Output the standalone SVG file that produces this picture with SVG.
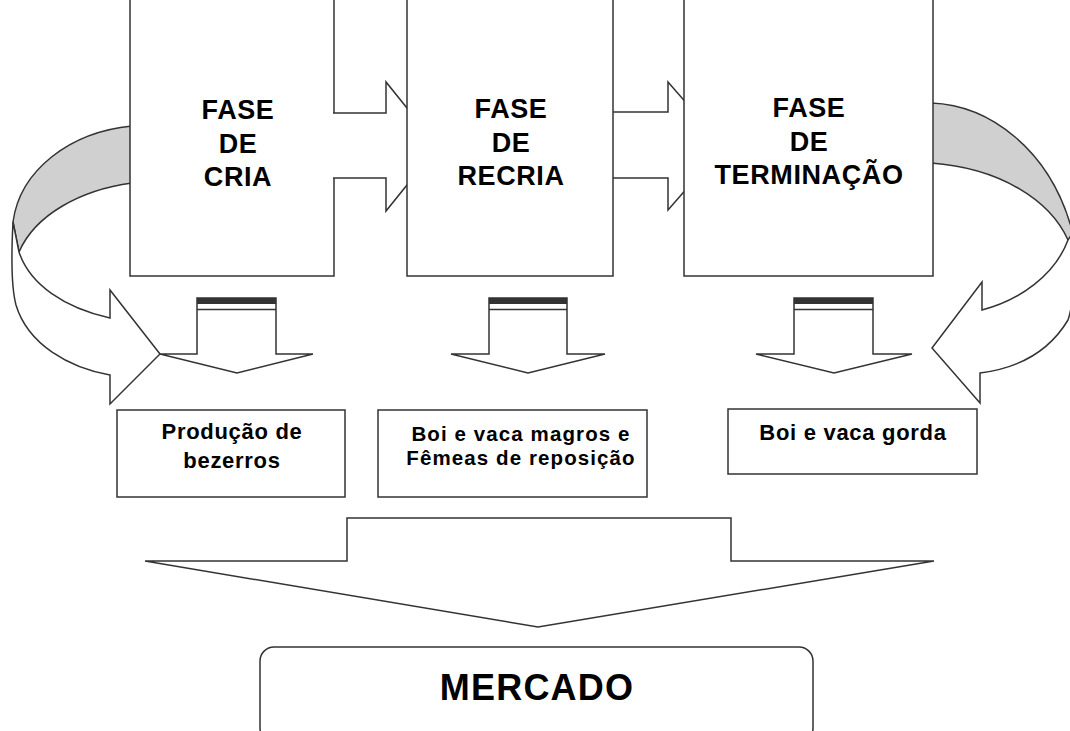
<svg xmlns="http://www.w3.org/2000/svg" width="1070" height="731" viewBox="0 0 1070 731">
<style>
.ln{stroke:#333;stroke-width:1.5;fill:#fff;stroke-linejoin:miter}
.gr{stroke:#333;stroke-width:1.5;fill:#d0d0d0}
.t1{font-family:"Liberation Sans",Arial,sans-serif;font-weight:bold;font-size:27px;letter-spacing:0.6px;text-anchor:middle;fill:#000}
.t2{font-family:"Liberation Sans",Arial,sans-serif;font-weight:bold;font-size:22px;letter-spacing:0.7px;text-anchor:middle;fill:#000}
.t2s{font-family:"Liberation Sans",Arial,sans-serif;font-weight:bold;font-size:20.5px;letter-spacing:1.1px;text-anchor:middle;fill:#000}
.t3{font-family:"Liberation Sans",Arial,sans-serif;font-weight:bold;font-size:36px;letter-spacing:1.2px;text-anchor:middle;fill:#000}
</style>
<rect width="1070" height="731" fill="#fff"/>
<g id="connectors">
  <path class="gr" d="M132,126 C70,132 20,170 13,222 L19,252 C35,215 80,190 132,183 Z"/>
  <path class="ln" d="M13,222 C11,260 12,290 16,305 C28,345 70,368 110,375 L110,404 L160,354 L110,290 L110,318 C65,308 30,285 19,252 Z"/>
  <path class="gr" d="M931,103 C990,105 1050,150 1072,230 L1072,242 L1068,240 C1050,200 1000,168 931,163 Z"/>
  <path class="ln" d="M1068,240 L1073,232 C1075,260 1075,300 1068,320 C1050,350 1020,368 980,373 L980,403 L932,348 L982,282 L982,310 C1020,300 1055,275 1068,240 Z"/>
</g>
<g id="fase-cria">
  <rect class="ln" x="130" y="-5" width="204" height="281"/>
  <text class="t1" x="238" y="119">FASE</text>
  <text class="t1" x="238" y="153">DE</text>
  <text class="t1" x="238" y="186">CRIA</text>
</g>
<g id="arrow-cria-recria">
  <path class="ln" d="M333,113 L386,113 L386,82 L438,146.5 L386,211 L386,178 L333,178" />
</g>
<g id="arrow-recria-terminacao">
  <path class="ln" d="M612,112 L668,112 L668,82 L724,146 L668,210 L668,178 L612,178" />
</g>
<g id="fase-recria">
  <rect class="ln" x="407" y="-5" width="206" height="281"/>
  <text class="t1" x="511" y="118">FASE</text>
  <text class="t1" x="511" y="152">DE</text>
  <text class="t1" x="511" y="185">RECRIA</text>
</g>
<g id="fase-terminacao">
  <rect class="ln" x="684" y="-5" width="249" height="281"/>
  <text class="t1" x="809" y="117">FASE</text>
  <text class="t1" x="809" y="151">DE</text>
  <text class="t1" x="809" y="184">TERMINAÇÃO</text>
</g>
<g id="down-arrows">
  <g id="down-1">
    <path class="ln" d="M197,354 L197,298 L276,298 L276,354 L313,354 L237,373 L160,354 Z"/>
    <rect x="197" y="298" width="79" height="6" fill="#333"/>
    <line x1="197" y1="309.5" x2="276" y2="309.5" stroke="#333" stroke-width="1.5"/>
  </g>
  <g id="down-2">
    <path class="ln" d="M489,354 L489,298 L567,298 L567,354 L605,354 L528,373 L451,354 Z"/>
    <rect x="489" y="298" width="78" height="6" fill="#333"/>
    <line x1="489" y1="309.5" x2="567" y2="309.5" stroke="#333" stroke-width="1.5"/>
  </g>
  <g id="down-3">
    <path class="ln" d="M794,354 L794,298 L873,298 L873,354 L912,354 L834,373 L756,354 Z"/>
    <rect x="794" y="298" width="79" height="6" fill="#333"/>
    <line x1="794" y1="309.5" x2="873" y2="309.5" stroke="#333" stroke-width="1.5"/>
  </g>
</g>
<g id="producao-bezerros">
  <rect class="ln" x="117" y="410" width="228" height="87"/>
  <text class="t2" x="232" y="439">Produção de</text>
  <text class="t2" x="232" y="468">bezerros</text>
</g>
<g id="boi-vaca-magros">
  <rect class="ln" x="378" y="410" width="269" height="87"/>
  <text class="t2s" x="521" y="441">Boi e vaca magros e</text>
  <text class="t2s" x="521" y="465">Fêmeas de reposição</text>
</g>
<g id="boi-vaca-gorda">
  <rect class="ln" x="728" y="409" width="249" height="65"/>
  <text class="t2" x="853" y="440">Boi e vaca gorda</text>
</g>
<g id="big-arrow">
  <path class="ln" d="M347,561 L347,518 L731,518 L731,561 L934,561 L538,627 L145,561 Z"/>
</g>
<g id="mercado">
  <rect class="ln" x="260" y="647" width="553" height="95" rx="14" ry="14"/>
  <text class="t3" x="537" y="700">MERCADO</text>
</g>
</svg>
